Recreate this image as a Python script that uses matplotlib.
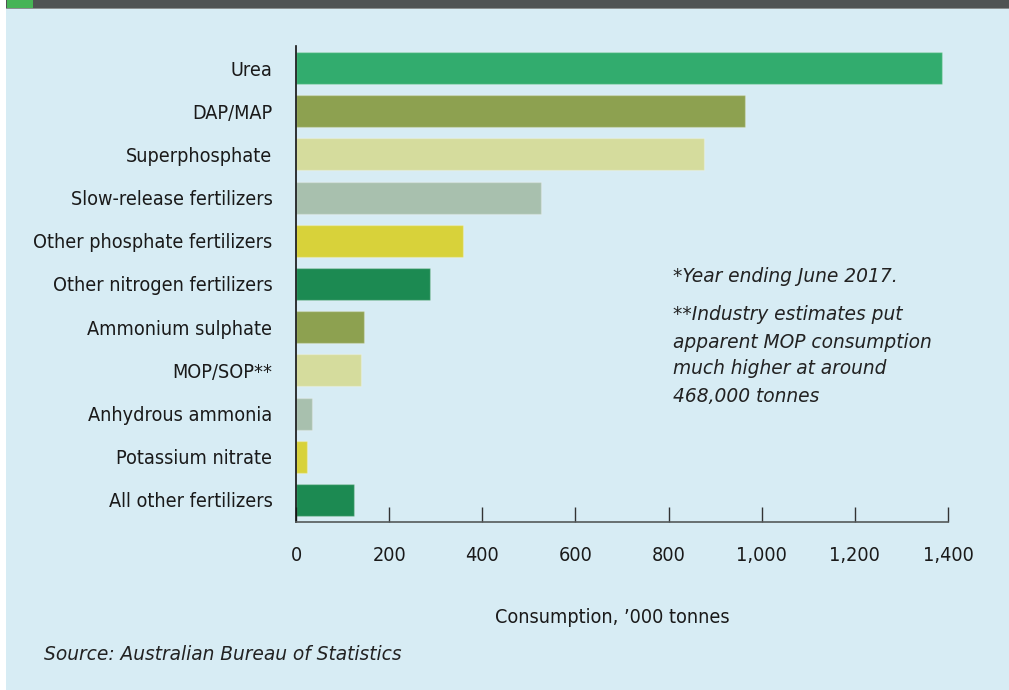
import matplotlib.pyplot as plt
import matplotlib.patches as mpatches

# fertilizer consumption, '000 tonnes
categories = ['Urea', 'DAP/MAP', 'Superphosphate', 'Slow-release fertilizers',
              'Other phosphate fertilizers', 'Other nitrogen fertilizers',
              'Ammonium sulphate', 'MOP/SOP**', 'Anhydrous ammonia',
              'Potassium nitrate', 'All other fertilizers']
values = [1388, 965, 877, 527, 359, 288, 147, 140, 35, 24, 124]
colors = ['#32ac6e', '#8da150', '#d5dc9d', '#a8c0ae', '#d8d23a', '#1c8a52',
          '#8da150', '#d5dc9d', '#a8c0ae', '#d8d23a', '#1c8a52']
xticks = [0, 200, 400, 600, 800, 1000, 1200, 1400]
xticklabels = ['0', '200', '400', '600', '800', '1,000', '1,200', '1,400']

narrow = dict(family='DejaVu Sans', stretch='condensed', fontsize=14.2, color='#1a1a1a')
note = dict(family='DejaVu Sans', style='italic', fontsize=13.4, color='#222222', va='center')
bg = '#d7ecf4'

fig = plt.figure(figsize=(10.09, 6.9), dpi=100)
fig.patch.set_facecolor(bg)

# white strip on the left, top band and green marker
def fig_rect(x, y, w, h, color):
    fig.patches.append(mpatches.Rectangle((x/1009, 1 - (y + h)/690), w/1009, h/690,
                                          transform=fig.transFigure, facecolor=color,
                                          edgecolor='none', zorder=-5))

fig_rect(0, 0, 6, 690, 'white')
fig_rect(6, 0, 1003, 8, '#4f5353')
fig_rect(6, 8, 1003, 1, '#8a8f8f')
fig_rect(7, 0, 26, 8, '#46b456')

ax = fig.add_axes([296/1009, 1 - 522/690, (948 - 296)/1009, (522 - 46)/690])
ax.set_facecolor('none')

ypos = list(range(len(categories)))
ax.barh(ypos, values, height=0.74, color=colors, edgecolor=(1, 1, 1, 0.25), linewidth=1)

ax.set_xlim(0, 1400)
ax.set_ylim(len(categories) - 0.49, -0.51)

ax.set_yticks(ypos)
ax.set_yticklabels(categories, **narrow)
ax.tick_params(axis='y', length=0, pad=17)

ax.set_xticks(xticks)
ax.set_xticklabels(xticklabels, **narrow)
ax.tick_params(axis='x', direction='in', length=11, width=1, color='#333333', pad=17)

for s in ['top', 'right']:
    ax.spines[s].set_visible(False)
ax.spines['left'].set_color('#111111')
ax.spines['left'].set_linewidth(1.2)
ax.spines['bottom'].set_color('#555a5a')
ax.spines['bottom'].set_linewidth(1.2)

ax.set_xlabel("Consumption, \u2019000 tonnes", **narrow)
ax.xaxis.set_label_coords(0.485, -0.18)

# notes
fig.text(673/1009, 1 - 276/690, '*Year ending June 2017.', **note)
notes = ['**Industry estimates put', 'apparent MOP consumption',
         'much higher at around', '468,000 tonnes']
for i, line in enumerate(notes):
    fig.text(673/1009, 1 - (315 + 27*i)/690, line, **note)

fig.text(44/1009, 1 - 655/690, 'Source: Australian Bureau of Statistics', **note)

plt.savefig('out.png', dpi=100, facecolor=fig.get_facecolor())
